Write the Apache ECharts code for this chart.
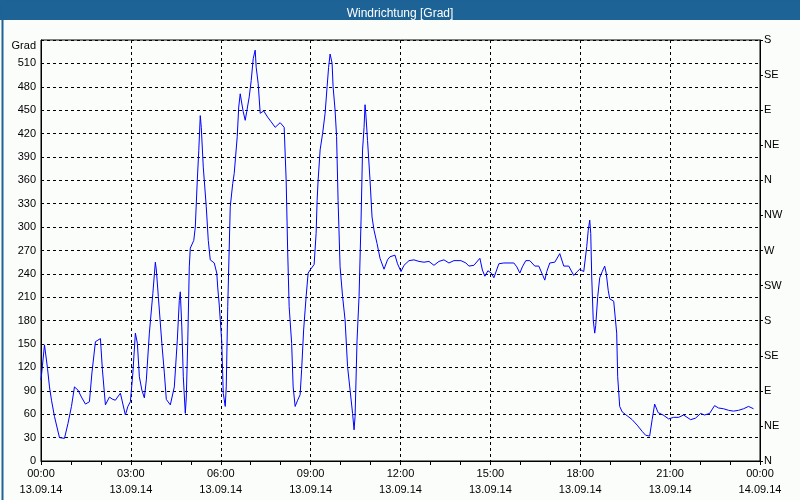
<!DOCTYPE html>
<html>
<head>
<meta charset="utf-8">
<script src="https://cdn.jsdelivr.net/npm/echarts@6/dist/echarts.min.js"></script>
<style>
html,body{margin:0;padding:0;background:#fbfdfb;}
#c{width:800px;height:500px;}
</style>
</head>
<body>
<div id="c"></div>
<script>
// time in minutes after 13.09.14 00:00
const minutes = [0,3,7,13,17,21,27,37,47,54,61,67,74,81,89,97,102,109,114,119,123,129,137,144,149,159,169,174,179,184,189,193,197,202,207,211,217,224,229,231,235,242,247,251,259,267,273,277,279,282,285,289,291,294,297,299,306,309,313,316,319,321,325,331,335,339,347,352,354,357,362,365,369,371,374,379,384,387,393,396,399,401,405,409,412,417,421,425,429,431,435,439,446,454,461,469,479,487,491,494,497,502,505,509,514,519,522,526,531,535,539,547,551,553,555,559,564,569,573,576,579,583,585,589,592,595,599,604,609,614,619,624,627,629,633,637,641,644,647,649,651,654,659,663,667,673,679,687,694,699,709,714,721,727,737,747,757,767,777,787,797,807,817,827,841,851,857,867,879,884,889,895,902,907,917,927,947,953,959,964,971,979,989,997,1005,1009,1013,1019,1029,1039,1047,1057,1067,1074,1079,1087,1093,1096,1099,1101,1103,1106,1109,1111,1115,1119,1124,1129,1132,1136,1139,1147,1153,1155,1159,1164,1174,1184,1194,1204,1211,1219,1224,1229,1236,1246,1257,1267,1277,1287,1301,1311,1321,1329,1339,1349,1357,1367,1377,1387,1397,1407,1417,1427];
const degrees = [104,123,149,119,95,78,57,30,29,48,70,95,91,82,73,76,113,153,155,157,117,72,82,79,78,87,59,70,76,113,164,151,108,91,81,104,164,215,255,245,211,151,113,79,72,95,155,206,217,172,108,61,82,155,249,273,283,300,360,398,443,428,377,326,283,258,254,241,222,200,153,87,70,95,198,326,356,369,416,454,471,463,448,437,448,467,488,516,527,505,484,446,449,441,435,428,434,428,360,270,198,151,95,70,78,85,117,168,211,241,245,252,292,334,360,399,420,446,480,505,522,510,480,450,416,334,249,211,181,121,91,61,40,57,155,211,309,399,428,457,441,411,360,313,296,279,260,246,258,262,264,253,243,251,257,258,256,255,256,251,256,258,254,257,257,254,250,251,260,245,237,244,241,235,253,254,254,249,241,249,257,257,250,250,238,232,243,254,255,266,250,250,238,243,246,243,275,296,309,292,236,181,164,174,211,235,243,250,241,219,208,205,164,108,70,63,58,53,46,38,33,32,53,73,62,59,54,56,56,59,53,55,61,59,61,71,68,67,65,64,65,67,70,67];
const directionLabels = ['N','NE','E','SE','S','SW','W','NW','N','NE','E','SE','S'];
const dateLabels = ['13.09.14','13.09.14','13.09.14','13.09.14','13.09.14','13.09.14','13.09.14','13.09.14','14.09.14'];
const titleText = 'Windrichtung [Grad]';
const unitLabel = 'Grad';

const chart = echarts.init(document.getElementById('c'), null, {renderer:'canvas'});
const font = 'Liberation Sans, Arial, sans-serif';
const pts = minutes.map((m,i)=>[m,degrees[i]]);
function pad(n){return (n<10?'0':'')+n;}

chart.setOption({
  backgroundColor:'#fbfdfb',
  animation:false,
  title:{text:titleText,left:'center',top:3,textStyle:{color:'#ffffff',fontSize:12,fontWeight:'normal',fontFamily:'Liberation Sans Narrow, Liberation Sans, sans-serif'}},
  graphic:[
    {type:'rect',left:0,top:0,z:-1,shape:{x:0,y:0,width:800,height:20},style:{fill:'#1d6396'},silent:true},
    {type:'rect',left:0,top:0,z:100,shape:{x:0.5,y:0.5,width:799,height:499},style:{fill:null,stroke:'#1d6396',lineWidth:2},silent:true}
  ],
  grid:{left:41,right:40,top:40,bottom:39,show:true,borderColor:'#000',borderWidth:1,backgroundColor:'transparent'},
  xAxis:{
    type:'value',min:0,max:1440,interval:180,
    axisLine:{show:true,lineStyle:{color:'#000',width:1}},
    axisTick:{show:true,length:4,lineStyle:{color:'#000'}},
    minorTick:{show:true,splitNumber:3,length:4,lineStyle:{color:'#000'}},
    splitLine:{show:true,lineStyle:{color:'#000',type:[3,3],width:1}},
    axisLabel:{
      color:'#000',fontSize:11,fontFamily:font,lineHeight:16,margin:5,showMaxLabel:true,showMinLabel:true,
      formatter:function(v){const h=Math.floor(v/60)%24;const i=Math.round(v/180);return pad(h)+':00\n'+dateLabels[i];}
    }
  },
  yAxis:[
    {
      type:'value',min:0,max:540,interval:30,position:'left',
      axisLine:{show:true,lineStyle:{color:'#000'}},
      axisTick:{show:false},
      splitLine:{show:true,lineStyle:{color:'#000',type:[3,3],width:1}},
      axisLabel:{color:'#000',fontSize:11,fontFamily:font,margin:5,
        formatter:function(v){return v===540?'{g|'+unitLabel+'}':String(v);},
        rich:{g:{color:'#000',fontSize:11,fontFamily:font,padding:[12,0,0,0]}}}
    },
    {
      type:'value',min:0,max:540,interval:45,position:'right',
      axisLine:{show:true,lineStyle:{color:'#000'}},
      axisTick:{show:true,length:3,inside:false,lineStyle:{color:'#000'}},
      splitLine:{show:false},
      axisLabel:{color:'#000',fontSize:11,fontFamily:font,margin:4,
        formatter:function(v){return directionLabels[Math.round(v/45)];}}
    }
  ],
  series:[{
    type:'line',data:pts,yAxisIndex:0,showSymbol:false,symbol:'none',
    lineStyle:{color:'#0000ff',width:1},
    emphasis:{disabled:true}
  }]
});
</script>
</body>
</html>
